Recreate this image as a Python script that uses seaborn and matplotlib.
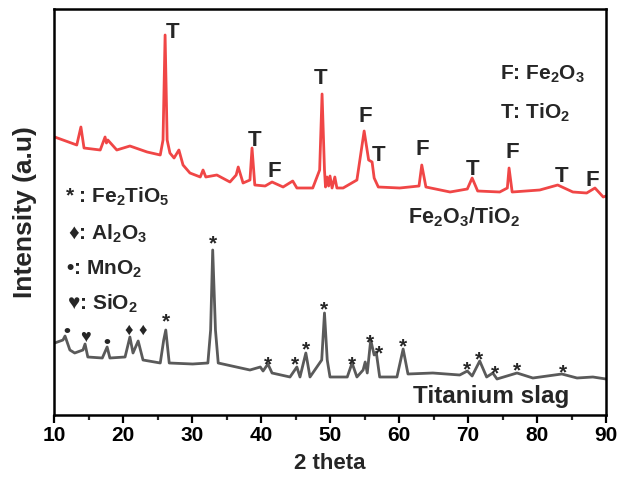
import matplotlib
matplotlib.use("Agg")
import matplotlib.pyplot as plt
import seaborn as sns
import pandas as pd

# ---- data ----
two_theta_fe = [10.1, 13.3, 13.9, 14.35, 16.7, 17.4, 17.6, 17.8, 19.1, 21.0, 23.5, 25.4, 25.8, 26.1, 26.4,
                26.8, 27.4, 28.1, 28.7, 29.7, 31.2, 31.6, 32.0, 33.6, 35.5, 36.4, 36.7, 37.4, 38.4, 38.7,
                39.1, 40.6, 41.6, 43.2, 44.6, 45.2, 47.5, 48.5, 48.85, 49.2, 49.35, 49.57, 49.8, 50.0,
                50.3, 50.7, 51.0, 51.9, 53.9, 54.95, 55.6, 56.1, 56.4, 57.0, 60.1, 62.9, 63.3, 63.9,
                67.4, 69.9, 70.6, 71.4, 74.6, 75.7, 75.95, 76.4, 80.4, 83.0, 85.2, 87.2, 88.4, 89.6, 90.0]
intensity_fe = [278, 270, 288, 267, 265, 278, 272, 275, 265, 269, 263, 260, 275, 380, 275,
                262, 257, 265, 250, 242, 238, 245, 238, 240, 233, 240, 248, 232, 235, 267,
                230, 229, 233, 228, 234, 227, 227, 245, 321, 245, 228, 238, 229, 239,
                227, 238, 227, 227, 235, 284, 255, 253, 237, 228, 227, 229, 250, 228,
                223, 226, 237, 224, 223, 227, 247, 223, 225, 230, 223, 222, 227, 218, 219]

two_theta_slag = [10.1, 11.3, 11.6, 12.3, 13.0, 14.2, 14.5, 14.9, 17.0, 17.7, 18.1, 20.3, 21.0, 21.45,
                  22.2, 22.9, 25.4, 25.9, 26.2, 26.7, 30.1, 32.3, 32.7, 33.0, 33.4, 33.8, 38.4, 39.9,
                  40.3, 41.0, 41.6, 44.2, 45.2, 45.65, 46.5, 47.1, 48.8, 49.2, 49.6, 50.0, 52.5, 53.2,
                  53.9, 54.8, 55.1, 55.4, 55.9, 56.4, 56.7, 57.2, 59.7, 60.6, 61.3, 64.9, 68.8, 69.9,
                  70.6, 71.7, 72.7, 73.6, 74.2, 77.1, 79.4, 83.6, 85.8, 88.1, 90.0]
intensity_slag = [72, 75, 79, 65, 62, 65, 71, 58, 57, 68, 57, 58, 78, 62,
                  74, 55, 52, 75, 85, 52, 51, 52, 85, 165, 85, 52, 45, 48,
                  44, 51, 42, 38, 48, 38, 62, 38, 55, 102, 55, 38, 38, 52,
                  38, 45, 53, 42, 75, 60, 63, 38, 38, 66, 41, 42, 40, 44,
                  39, 54, 38, 42, 36, 42, 37, 41, 37, 38, 36]

# phase labels for the Fe2O3/TiO2 curve (baseline positions)
fe_label_x = [27.25, 39.0, 41.9, 48.7, 55.05, 57.1, 63.45, 70.6, 76.4, 83.5, 88.0]
fe_label_y = [377, 269, 238, 331, 293, 254, 260, 240, 257, 233, 229]
fe_label_t = ["T", "T", "F", "T", "F", "T", "F", "T", "F", "T", "F"]

# phase markers for the titanium slag curve (baseline positions)
slag_mark_x = [11.9, 14.5, 17.7, 20.9, 22.9, 26.2, 33.05, 41.0, 44.9, 46.5, 49.1, 53.2, 55.8,
               57.1, 60.6, 69.85, 71.6, 73.9, 77.1, 83.75]
slag_mark_y = [79, 73, 68, 80, 80, 88, 166, 45, 45, 60, 100, 45, 67, 56, 63, 40, 50, 36, 39, 37]
slag_mark_t = ["•", "♥", "•", "♦", "♦", "*", "*", "*", "*", "*", "*", "*", "*",
               "*", "*", "*", "*", "*", "*", "*"]

legend_slag = ["* : Fe$_2$TiO$_5$", "♦: Al$_2$O$_3$", "•: MnO$_2$", "♥: SiO$_2$"]
legend_slag_x = [11.6, 12.0, 11.7, 11.9]
legend_slag_y = [212, 175, 140, 105]
legend_fe = ["F: Fe$_2$O$_3$", "T: TiO$_2$"]
legend_fe_y = [335, 296]
x_ticks = [10, 20, 30, 40, 50, 60, 70, 80, 90]
x_minor = [15, 25, 35, 45, 55, 65, 75, 85]

# ---- style ----
sns.set_theme(style="ticks")
fam = ["Liberation Sans", "DejaVu Sans"]
plt.rcParams["font.family"] = fam
plt.rcParams["font.weight"] = "bold"
plt.rcParams["mathtext.fontset"] = "custom"
plt.rcParams["mathtext.rm"] = "Liberation Sans:bold"
plt.rcParams["mathtext.it"] = "Liberation Sans:bold"
plt.rcParams["mathtext.bf"] = "Liberation Sans:bold"

fig = plt.figure(figsize=(6.22, 4.78), dpi=100)
ax = fig.add_axes([54 / 622, 63 / 478, 552 / 622, 406 / 478])

df_fe = pd.DataFrame({"2theta": two_theta_fe, "I": intensity_fe})
df_slag = pd.DataFrame({"2theta": two_theta_slag, "I": intensity_slag})
sns.lineplot(data=df_fe, x="2theta", y="I", ax=ax, color="#f04646", lw=2.0, sort=False)
sns.lineplot(data=df_slag, x="2theta", y="I", ax=ax, color="#5a5a5a", lw=2.0, sort=False)

ax.set_xlim(10, 90)
ax.set_ylim(0, 406)
ax.set_xticks(x_ticks)
ax.set_xticks(x_minor, minor=True)
ax.set_yticks([])
ax.tick_params(axis="x", which="major", length=6, width=1.6, direction="out",
               labelsize=15, pad=2, colors="black")
ax.tick_params(axis="x", which="minor", length=3.5, width=1.6, direction="out")
for lab in ax.get_xticklabels():
    lab.set_fontweight("bold")
for s in ax.spines.values():
    s.set_linewidth(1.8)
    s.set_color("black")

ax.set_xlabel("2 theta", fontsize=16, fontweight="bold", labelpad=6)
ax.set_ylabel("Intensity (a.u)", fontsize=19, fontweight="bold", labelpad=12)

for x, y, t in zip(fe_label_x, fe_label_y, fe_label_t):
    ax.text(x, y, t, fontsize=16, fontweight="bold", ha="center", va="baseline")

for x, y, t in zip(slag_mark_x, slag_mark_y, slag_mark_t):
    fs = {"*": 15, "•": 14, "♥": 13, "♦": 12}[t]
    ax.text(x, y, t, fontsize=fs, fontweight="bold", ha="center", va="baseline", family=fam)

for x, y, t in zip(legend_slag_x, legend_slag_y, legend_slag):
    ax.text(x, y, t, fontsize=15, fontweight="bold", ha="left", va="baseline", family=fam)

for y, t in zip(legend_fe_y, legend_fe):
    ax.text(74.6, y, t, fontsize=15, fontweight="bold", ha="left", va="baseline")

ax.text(61.3, 192, "Fe$_2$O$_3$/TiO$_2$", fontsize=15.5, fontweight="bold", ha="left", va="baseline")
ax.text(62.0, 12, "Titanium slag", fontsize=17.5, fontweight="bold", ha="left", va="baseline")

fig.savefig("out.png", dpi=100)
